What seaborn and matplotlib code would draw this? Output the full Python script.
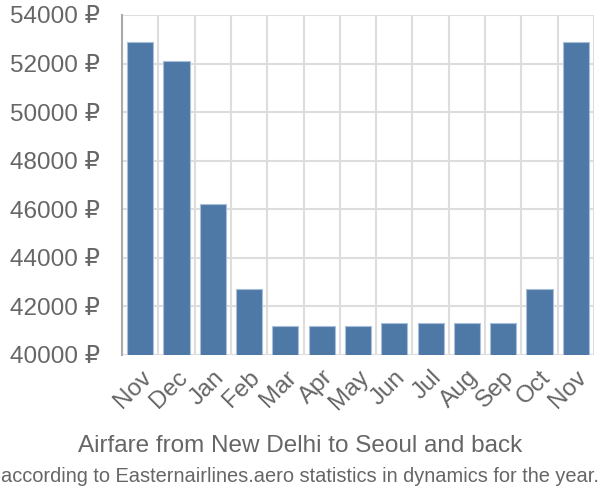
import matplotlib
matplotlib.use("Agg")
import matplotlib.pyplot as plt
import matplotlib.transforms as mtransforms
import seaborn as sns
import numpy as np
import pandas as pd

months = ["Nov", "Dec", "Jan", "Feb", "Mar", "Apr", "May", "Jun", "Jul", "Aug", "Sep", "Oct", "Nov"]
prices = [52900, 52100, 46200, 42700, 41200, 41200, 41200, 41300, 41300, 41300, 41300, 42700, 52900]
yticks = [40000, 42000, 44000, 46000, 48000, 50000, 52000, 54000]
title = "Airfare from New Delhi to Seoul and back"
subtitle = "according to Easternairlines.aero statistics in dynamics for the year."

sns.set_theme(style="white")
plt.rcParams['font.family'] = ['Liberation Sans', 'DejaVu Sans']

df = pd.DataFrame({"pos": [str(i) for i in range(len(months))], "price": prices})

fig = plt.figure(figsize=(6, 5), dpi=100)
ax = fig.add_axes([0.2033, 0.29, 0.7867, 0.68])
sns.barplot(data=df, x="pos", y="price", color="#4e79a7", saturation=1, width=0.72,
            edgecolor="#a9bfd8", linewidth=0.8, ax=ax, zorder=3)
ax.set_ylim(40000, 54000)
ax.set_xlim(-0.5, len(months) - 0.5)
ax.set_yticks(yticks)
ax.set_yticklabels([f"{v} ₽" for v in yticks], fontsize=17.5, color="#666666")
ax.set_xticks(range(len(months)))
ax.set_xticklabels(months, fontsize=17.5, color="#666666", rotation=45, ha="right",
                   rotation_mode="anchor")
offset = mtransforms.ScaledTranslation(-4 / 100, 0, fig.dpi_scale_trans)
for lab in ax.get_xticklabels():
    lab.set_transform(lab.get_transform() + offset)
ax.tick_params(axis="x", which="major", length=0, pad=8)
ax.tick_params(axis="y", which="major", length=15, color="#dddddd", width=1.5, pad=1)
ax.set_xticks(np.arange(-0.5, len(months), 1), minor=True)
ax.tick_params(axis="x", which="minor", length=15, color="#dddddd", width=1.5)
ax.grid(axis="y", which="major", color="#dddddd", linewidth=1.5, zorder=0)
ax.grid(axis="x", which="minor", color="#dddddd", linewidth=1.5, zorder=0)
ax.set_axisbelow(True)
for s in ["top", "right", "bottom"]:
    ax.spines[s].set_visible(False)
ax.spines["left"].set_color("#aaaaaa")
ax.spines["left"].set_linewidth(1.5)
ax.spines["left"].set_bounds(40000, 54000)
ax.set_xlabel("")
ax.set_ylabel("")

fig.text(0.5, 1 - 446 / 500, title, ha="center", va="center", fontsize=17.5, color="#666666")
fig.text(0.5, 1 - 476 / 500, subtitle, ha="center", va="center", fontsize=14.4, color="#666666")

fig.savefig("out.png", dpi=100)
